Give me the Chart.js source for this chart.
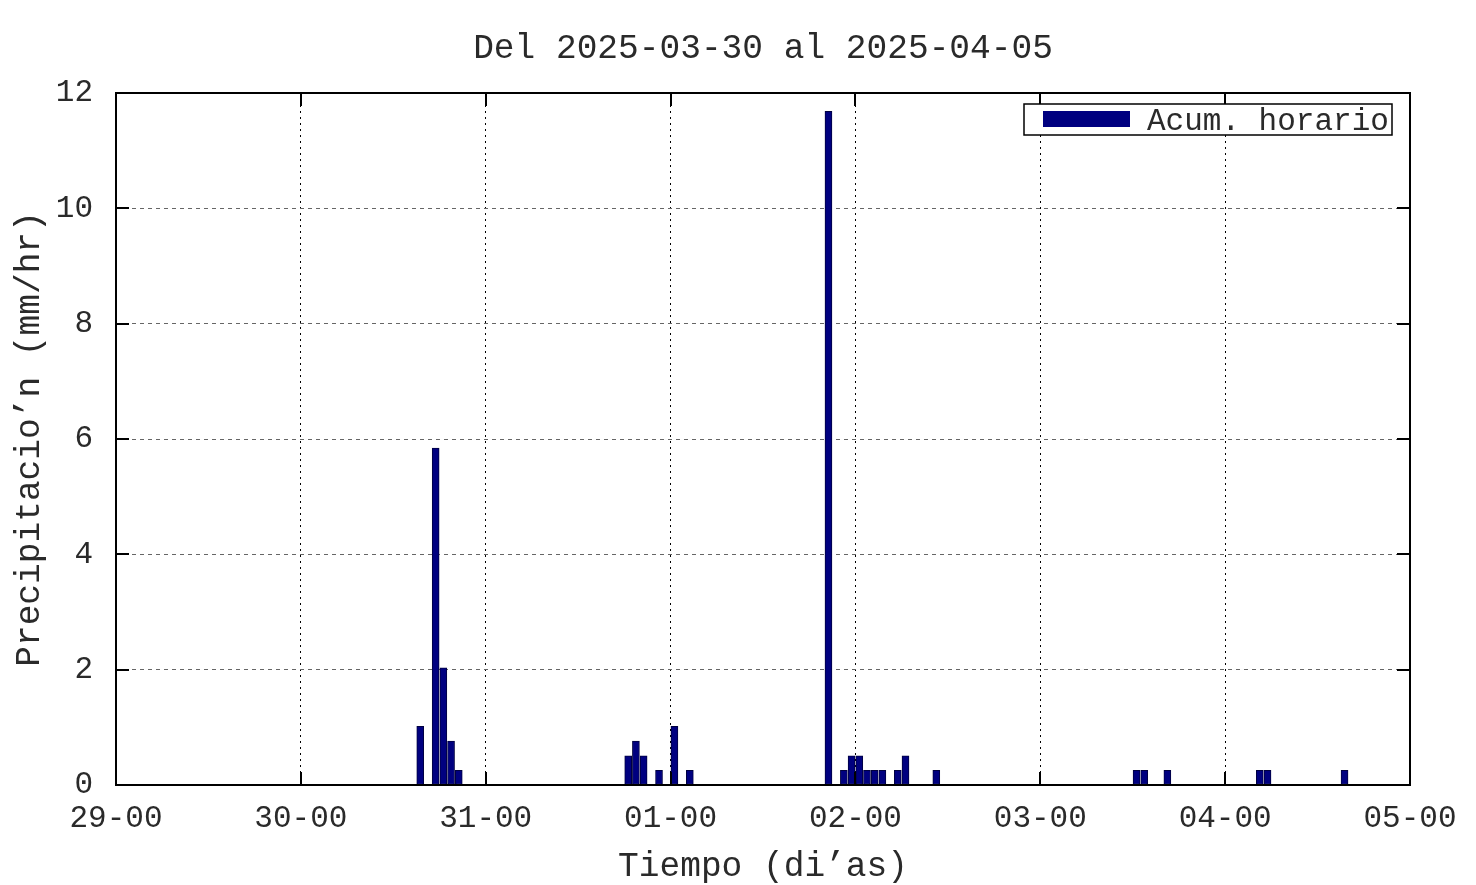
<!DOCTYPE html>
<html>
<head>
<meta charset="utf-8">
<script src="https://cdn.jsdelivr.net/npm/chart.js@4"></script>
<style>
html,body{margin:0;padding:0;background:#fff;}
#wrap{width:1476px;height:885px;position:relative;}
</style>
</head>
<body>
<div id="wrap"><canvas id="c"></canvas></div>
<script>
// Horas desde 2025-03-29 00:00 (inicio de cada hora con lluvia)
const hourStarts = [39,41,42,43,44, 66,67,68,70,72,74, 92,94,95,96,97,98,99,101,102,106, 132,133,136,148,149,159];
// Acumulado horario (mm/hr)
const rainValues = [1.016,5.842,2.032,0.762,0.254, 0.508,0.762,0.508,0.254,1.016,0.254, 11.684,0.254,0.508,0.508,0.254,0.254,0.254,0.254,0.508,0.254, 0.254,0.254,0.254,0.254,0.254,0.254];
const xTickLabels = ['29-00','30-00','31-00','01-00','02-00','03-00','04-00','05-00'];
const yTicks = [0,2,4,6,8,10,12];
const titleText = 'Del 2025-03-30 al 2025-04-05';
const seriesLabel = 'Acum. horario';
const xTitle = 'Tiempo (di\u2019as)';
const yTitle = 'Precipitacio\u2019n (mm/hr)';

const FONT = "'Liberation Mono', 'DejaVu Sans Mono', monospace";
const TXT = '#2a2a2a';
const NAVY = '#000080';

const points = hourStarts.map((h, i) => ({x: h + 0.5, y: rainValues[i]}));

const framePlugin = {
  id: 'frame',
  afterDatasetsDraw(chart) {
    const {ctx, chartArea: a, scales: {x, y}} = chart;
    ctx.save();
    ctx.strokeStyle = '#000';
    ctx.lineWidth = 2;
    const tl = 13;
    ctx.beginPath();
    x.ticks.forEach(t => {
      const px = Math.round(x.getPixelForValue(t.value));
      if (px <= a.left + 1 || px >= a.right - 1) return;
      ctx.moveTo(px, a.bottom); ctx.lineTo(px, a.bottom - tl);
      ctx.moveTo(px, a.top); ctx.lineTo(px, a.top + tl);
    });
    y.ticks.forEach(t => {
      const py = Math.round(y.getPixelForValue(t.value));
      if (py <= a.top + 1 || py >= a.bottom - 1) return;
      ctx.moveTo(a.left, py); ctx.lineTo(a.left + tl, py);
      ctx.moveTo(a.right, py); ctx.lineTo(a.right - tl, py);
    });
    ctx.stroke();
    ctx.strokeRect(a.left, a.top, a.right - a.left, a.bottom - a.top);

    // title centered over the plot area
    ctx.fillStyle = TXT;
    ctx.font = "34.5px " + FONT;
    ctx.textAlign = 'center';
    ctx.textBaseline = 'middle';
    ctx.fillText(titleText, (a.left + a.right) / 2, 49);

    // legend
    const lx = 1024, ly = 104, lw = 368, lh = 31;
    ctx.fillStyle = '#fff';
    ctx.fillRect(lx, ly, lw, lh);
    ctx.lineWidth = 1.5;
    ctx.strokeStyle = '#000';
    ctx.strokeRect(lx, ly, lw, lh);
    ctx.fillStyle = NAVY;
    ctx.fillRect(1043, 111, 87, 16);
    ctx.fillStyle = TXT;
    ctx.font = "31px " + FONT;
    ctx.textBaseline = 'middle';
    ctx.textAlign = 'left';
    ctx.fillText(chart.data.datasets[0].label, 1147, 122);
    ctx.restore();
  }
};

new Chart(document.getElementById('c'), {
  type: 'bar',
  data: {
    datasets: [{
      label: seriesLabel,
      data: points,
      backgroundColor: NAVY,
      borderColor: '#000040',
      borderWidth: 1,
      barThickness: 7,
      borderSkipped: false
    }]
  },
  plugins: [framePlugin],
  options: {
    responsive: true,
    maintainAspectRatio: false,
    animation: false,
    layout: {padding: {left: 0, right: 66, top: 93, bottom: 0}},
    plugins: {
      legend: {display: false},
      tooltip: {enabled: false},
      title: {display: false}
    },
    scales: {
      x: {
        type: 'linear',
        min: 0, max: 168,
        offset: false,
        afterFit: s => { s.height = 100; },
        afterBuildTicks: s => { s.ticks = xTickLabels.map((_, i) => ({value: i * 24})); },
        ticks: {
          color: TXT,
          font: {family: FONT, size: 31},
          padding: 15,
          maxRotation: 0,
          autoSkip: false,
          callback: (v) => xTickLabels[Math.round(v / 24)]
        },
        grid: {
          offset: false,
          color: ctx => (ctx.index === 0 || ctx.index === xTickLabels.length - 1) ? 'rgba(0,0,0,0)' : '#000',
          lineWidth: 1,
          drawTicks: false
        },
        border: {display: false, dash: [2, 4]},
        title: {
          display: true, text: xTitle, color: TXT,
          font: {family: FONT, size: 34.5},
          padding: {top: 0, bottom: -3}
        }
      },
      y: {
        min: 0, max: 12,
        afterFit: s => { s.width = 116; },
        afterBuildTicks: s => { s.ticks = yTicks.map(v => ({value: v})); },
        ticks: {
          color: TXT,
          font: {family: FONT, size: 31},
          padding: 23
        },
        grid: {
          color: ctx => (ctx.index === 0 || ctx.index === yTicks.length - 1) ? 'rgba(0,0,0,0)' : '#666',
          lineWidth: 1,
          drawTicks: false
        },
        border: {display: false, dash: [4, 4]},
        title: {
          display: true, text: yTitle, color: TXT,
          font: {family: FONT, size: 34.5},
          padding: {top: 9, bottom: 0}
        }
      }
    }
  }
});
</script>
</body>
</html>
